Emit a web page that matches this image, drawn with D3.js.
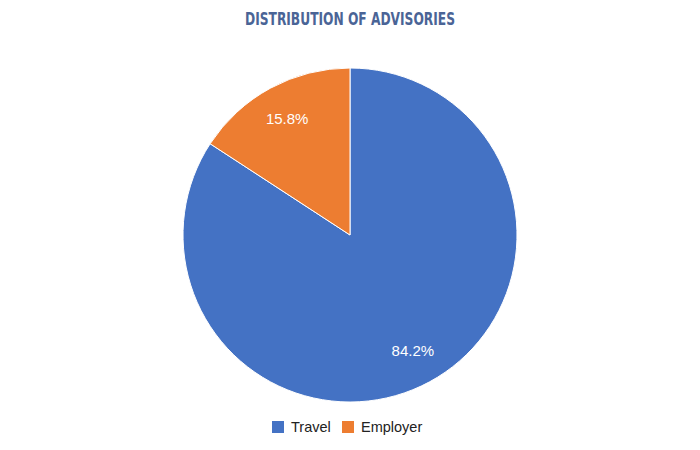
<!DOCTYPE html>
<html>
<head>
<meta charset="utf-8">
<script src="https://cdn.jsdelivr.net/npm/d3@7"></script>
<style>
  body { margin: 0; background: #fff; }
</style>
</head>
<body>
<script>
const categories = ["Travel", "Employer"];
const values = [84.2, 15.8];
const couleurs = ["#4472c4", "#ed7d31"];

const largeur = 700;
const hauteur = 450;

let canevas = d3.select("body")
    .append("svg")
    .attr("width", largeur)
    .attr("height", hauteur);

// titre
canevas.append("text")
    .attr("x", 350)
    .attr("y", 25)
    .attr("text-anchor", "middle")
    .attr("textLength", 210)
    .attr("lengthAdjust", "spacingAndGlyphs")
    .style("font-family", "'DejaVu Sans', sans-serif")
    .style("font-stretch", "condensed")
    .style("font-weight", "bold")
    .style("font-size", "17px")
    .style("fill", "#4a6496")
    .text("DISTRIBUTION OF ADVISORIES");

const donnees = categories.map((c, i) => ({ cat: c, val: values[i] }));

const rayon = 167;
const pie = d3.pie().sort(null).value(d => d.val);
const arc = d3.arc().innerRadius(0).outerRadius(rayon);
const arcLabel = d3.arc().innerRadius(rayon * 0.79).outerRadius(rayon * 0.79);

const g = canevas.append("g")
    .attr("transform", "translate(350, 235)");

const parts = pie(donnees);

g.selectAll("path")
    .data(parts)
    .enter()
    .append("path")
    .attr("d", arc)
    .style("fill", (d, i) => couleurs[i])
    .style("stroke", "white")
    .style("stroke-width", 1);

g.selectAll("text.label")
    .data(parts)
    .enter()
    .append("text")
    .attr("class", "label")
    .attr("transform", d => "translate(" + arcLabel.centroid(d) + ")")
    .attr("text-anchor", "middle")
    .attr("dy", "0.35em")
    .style("font-family", "Arial, 'Liberation Sans', sans-serif")
    .style("font-size", "15px")
    .style("fill", "white")
    .text(d => d.data.val.toFixed(1) + "%");

// légende
const legende = canevas.append("g");
const posLeg = [272, 342];
categories.forEach((c, i) => {
    legende.append("rect")
        .attr("x", posLeg[i])
        .attr("y", 421)
        .attr("width", 12)
        .attr("height", 12)
        .style("fill", couleurs[i]);
    legende.append("text")
        .attr("x", posLeg[i] + 19)
        .attr("y", 432)
        .style("font-family", "Arial, 'Liberation Sans', sans-serif")
        .style("font-size", "14.5px")
        .style("fill", "#222")
        .text(c);
});
</script>
</body>
</html>
